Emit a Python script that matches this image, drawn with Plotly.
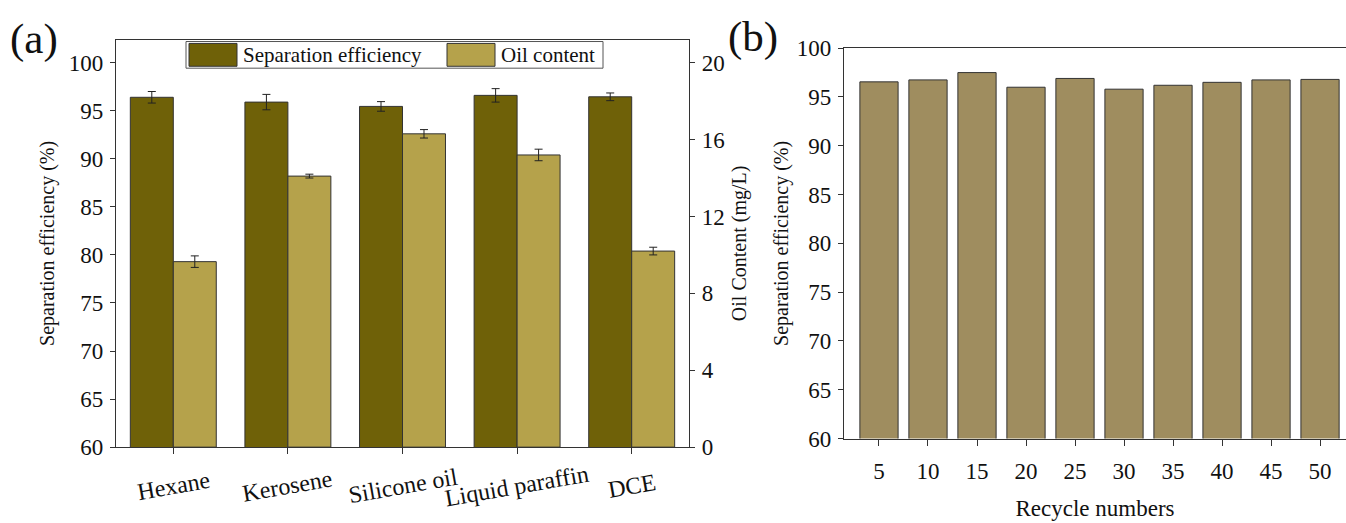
import plotly.graph_objects as go

W, H = 1346, 523

# ---------------- data ----------------
solvents = ["Hexane", "Kerosene", "Silicone oil", "Liquid paraffin", "DCE"]
sep_eff = [96.4, 95.9, 95.45, 96.6, 96.45]
sep_err = [0.6, 0.8, 0.5, 0.7, 0.4]
oil_content = [9.65, 14.1, 16.3, 15.2, 10.2]
oil_err = [0.3, 0.1, 0.22, 0.3, 0.2]

recycle = [5, 10, 15, 20, 25, 30, 35, 40, 45, 50]
recycle_eff = [96.55, 96.75, 97.5, 96.0, 96.9, 95.8, 96.2, 96.5, 96.75, 96.8]

DARK = "#6f6108"
LIGHT = "#b5a24b"
KHAKI = "#9f8d5f"
EDGE = "#333333"
FONT = "Liberation Serif"
TICK = 23
TITLE = 20

def px_x(p):
    return p / W

def px_y(p):
    return 1 - p / H

fig = go.Figure()
xpos = list(range(len(solvents)))

fig.add_trace(go.Bar(
    x=xpos, y=sep_eff, name="Separation efficiency",
    width=0.375, offset=-0.375,
    marker=dict(color=DARK, line=dict(color=EDGE, width=1)),
    error_y=dict(type="data", array=sep_err, color="#222", thickness=1, width=4),
    xaxis="x", yaxis="y", showlegend=False,
))
fig.add_trace(go.Bar(
    x=xpos, y=oil_content, name="Oil content",
    width=0.375, offset=0,
    marker=dict(color=LIGHT, line=dict(color=EDGE, width=1)),
    error_y=dict(type="data", array=oil_err, color="#222", thickness=1, width=4),
    xaxis="x", yaxis="y2", showlegend=False,
))
fig.add_trace(go.Bar(
    x=recycle, y=recycle_eff, name="Recycle",
    width=3.9,
    marker=dict(color=KHAKI, line=dict(color=EDGE, width=1)),
    xaxis="x2", yaxis="y3", showlegend=False,
))

axis_common = dict(
    showline=True, linecolor=EDGE, linewidth=1.4,
    ticks="outside", ticklen=5, tickcolor=EDGE, tickwidth=1.2,
    showgrid=False, zeroline=False,
    tickfont=dict(family=FONT, size=TICK, color="#111"),
)

dom_xa = [px_x(116), px_x(689)]
dom_ya = [px_y(457), px_y(29)]
dom_xb = [px_x(844), 1.0]
dom_yb = [px_y(448), px_y(38)]

fig.update_layout(
    width=W, height=H,
    margin=dict(l=0, r=0, t=0, b=0),
    paper_bgcolor="white", plot_bgcolor="white",
    barmode="overlay",
    font=dict(family=FONT, color="#111"),
    xaxis=dict(axis_common, domain=dom_xa, anchor="y", range=[-0.5, 4.5],
               tickmode="array", tickvals=xpos, ticktext=solvents,
               showticklabels=False, mirror=True, ticklen=6),
    yaxis=dict(axis_common, domain=dom_ya, anchor="x", range=[60, 102.4],
               tickvals=[60, 65, 70, 75, 80, 85, 90, 95, 100], ticklabelstandoff=2,
               title=dict(text="Separation efficiency (%)",
                          font=dict(family=FONT, size=TITLE, color="#111"), standoff=8)),
    yaxis2=dict(axis_common, overlaying="y", side="right", anchor="x",
                range=[0, 21.2], tickvals=[0, 4, 8, 12, 16, 20], ticklabelstandoff=2,
                title=dict(text="Oil Content (mg/L)",
                           font=dict(family=FONT, size=TITLE, color="#111"), standoff=8)),
    xaxis2=dict(axis_common, domain=dom_xb, anchor="y3", range=[1.43, 52.65],
                tickvals=recycle, mirror=True, ticklen=6, ticklabelstandoff=6,
                title=dict(text="Recycle numbers",
                           font=dict(family=FONT, size=23, color="#111"), standoff=16)),
    yaxis3=dict(axis_common, domain=dom_yb, anchor="x2", range=[60, 100],
                tickvals=[60, 65, 70, 75, 80, 85, 90, 95, 100], ticklabelstandoff=2,
                title=dict(text="Separation efficiency (%)",
                           font=dict(family=FONT, size=TITLE, color="#111"), standoff=2)),
)

# category labels, tilted and centred under each tick
for i, s in enumerate(solvents):
    fig.add_annotation(text=s, x=i, xref="x", y=px_y(498), yref="paper",
                       xanchor="center", yanchor="middle", textangle=-10,
                       showarrow=False, font=dict(family=FONT, size=24, color="#111"))

# custom legend (panel a)
shapes = [
    dict(type="rect", xref="paper", yref="paper",
         x0=px_x(186), x1=px_x(603), y0=px_y(59), y1=px_y(31),
         line=dict(color="#555", width=1), fillcolor="white", layer="above"),
    dict(type="rect", xref="paper", yref="paper",
         x0=px_x(189), x1=px_x(237), y0=px_y(57), y1=px_y(33),
         line=dict(color=EDGE, width=1), fillcolor=DARK, layer="above"),
    dict(type="rect", xref="paper", yref="paper",
         x0=px_x(447), x1=px_x(495), y0=px_y(57), y1=px_y(33),
         line=dict(color=EDGE, width=1), fillcolor=LIGHT, layer="above"),
]
fig.update_layout(shapes=shapes)

annots = [
    dict(text="Separation efficiency", x=px_x(241), y=px_y(45), xanchor="left", yanchor="middle"),
    dict(text="Oil content", x=px_x(499), y=px_y(45), xanchor="left", yanchor="middle"),
]
for a in annots:
    fig.add_annotation(xref="paper", yref="paper", showarrow=False,
                       font=dict(family=FONT, size=21, color="#111"), **a)

fig.add_annotation(text="(a)", xref="paper", yref="paper", x=px_x(8), y=px_y(28),
                   xanchor="left", yanchor="middle", showarrow=False,
                   font=dict(family=FONT, size=43, color="#111"))
fig.add_annotation(text="(b)", xref="paper", yref="paper", x=px_x(726), y=px_y(26),
                   xanchor="left", yanchor="middle", showarrow=False,
                   font=dict(family=FONT, size=43, color="#111"))

fig.write_html("out.html")
